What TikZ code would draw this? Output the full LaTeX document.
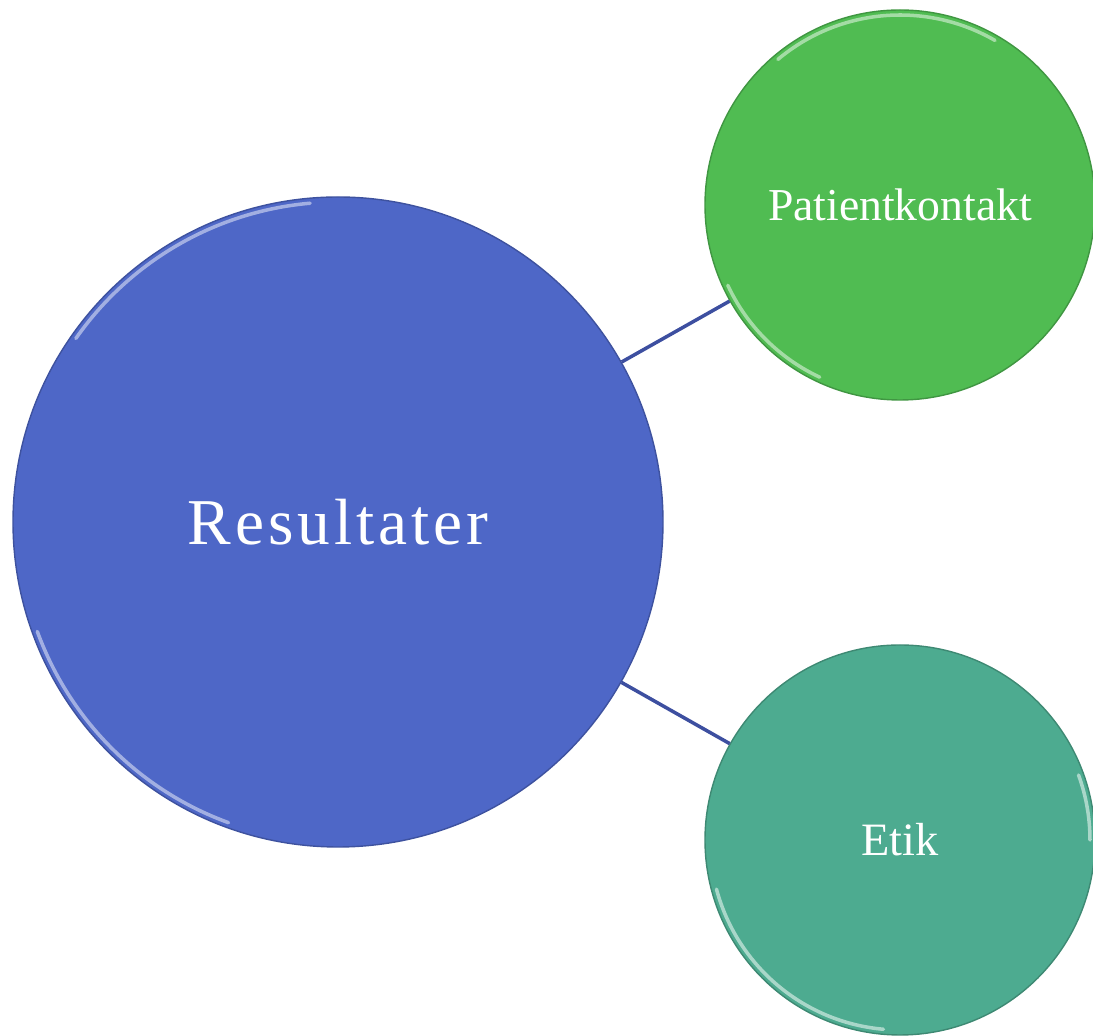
\documentclass[tikz,border=0pt]{standalone}
\usepackage{fontspec}
\setmainfont{Liberation Serif}
\newfontfamily\widefont[LetterSpace=6]{Liberation Serif}
\definecolor{resblue}{HTML}{4E67C7}
\definecolor{patgreen}{HTML}{50BC52}
\definecolor{etikteal}{HTML}{4DAB90}
\definecolor{linkblue}{HTML}{3D4FA0}
\tikzset{
  bubble/.style={circle, draw=#1!80!black, line width=0.4pt, inner sep=0pt, text=white},
  rim/.style={line width=1pt, line cap=round, opacity=0.8},
  link/.style={draw=linkblue, line width=1pt}
}
\begin{document}
\begin{tikzpicture}
			\useasboundingbox (0,0) rectangle (10.93,10.36);
			\node[bubble=resblue, fill=resblue, minimum size=6.5cm, font=\widefont\fontsize{18.6}{23}\selectfont] (res) at (3.38,5.14) {Resultater};
			\node[bubble=patgreen, fill=patgreen, minimum size=3.9cm, font=\fontsize{13}{16}\selectfont] (pat) at (9.00,8.31) {Patientkontakt};
			\node[bubble=etikteal, fill=etikteal, minimum size=3.9cm, font=\fontsize{13.2}{16}\selectfont] (etik) at (9.00,1.96) {Etik};
			% light rims
			\draw[rim, resblue!40!white] (res.center) ++(95:3.2) arc (95:145:3.2);
			\draw[rim, resblue!40!white] (res.center) ++(200:3.2) arc (200:250:3.2);
			\draw[rim, patgreen!40!white] (pat.center) ++(60:1.9) arc (60:130:1.9);
			\draw[rim, patgreen!40!white] (pat.center) ++(205:1.9) arc (205:245:1.9);
			\draw[rim, etikteal!35!white] (etik.center) ++(195:1.9) arc (195:265:1.9);
			\draw[rim, etikteal!35!white] (etik.center) ++(20:1.9) arc (20:0:1.9);
			\path[link] (res) -- (pat);
			\path[link] (res) -- (etik);
		\end{tikzpicture}
\end{document}
